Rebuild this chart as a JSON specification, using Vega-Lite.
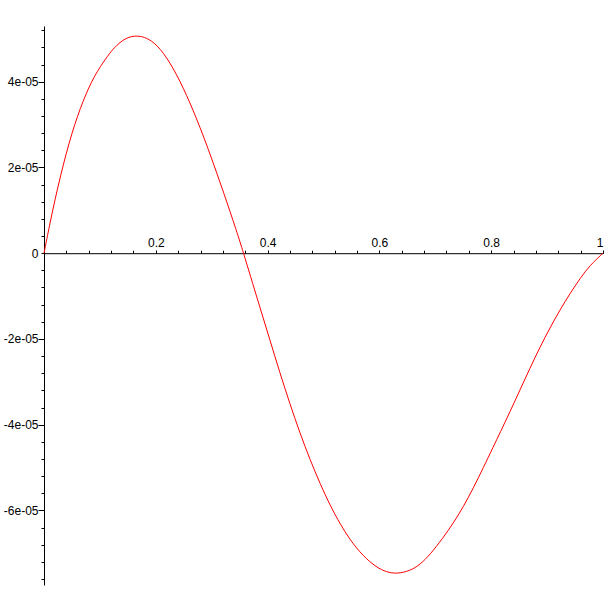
{
  "$schema": "https://vega.github.io/schema/vega-lite/v6.json",
  "autosize": "none",
  "width": 559,
  "height": 559,
  "padding": {"left": 44, "top": 26, "right": 8, "bottom": 26},
  "background": "white",
  "config": {"view": {"stroke": null}, "axis": {"grid": false, "domainColor": "black", "tickColor": "black", "labelColor": "black", "labelFont": "Liberation Sans", "labelFontSize": 12, "title": null, "domainWidth": 1, "tickWidth": 1}},
  "data": {"values": [
    {"x": 0, "y": 0},
    {"x": 0.01, "y": 0.66e-5},
    {"x": 0.02, "y": 1.27e-5},
    {"x": 0.03, "y": 1.83e-5},
    {"x": 0.04, "y": 2.34e-5},
    {"x": 0.05, "y": 2.80e-5},
    {"x": 0.06, "y": 3.20e-5},
    {"x": 0.07, "y": 3.55e-5},
    {"x": 0.08, "y": 3.86e-5},
    {"x": 0.09, "y": 4.12e-5},
    {"x": 0.10, "y": 4.34e-5},
    {"x": 0.118, "y": 4.68e-5},
    {"x": 0.13, "y": 4.85e-5},
    {"x": 0.142, "y": 4.98e-5},
    {"x": 0.152, "y": 5.04e-5},
    {"x": 0.162, "y": 5.07e-5},
    {"x": 0.172, "y": 5.06e-5},
    {"x": 0.182, "y": 5.03e-5},
    {"x": 0.2016, "y": 4.88e-5},
    {"x": 0.2254, "y": 4.46e-5},
    {"x": 0.249, "y": 3.87e-5},
    {"x": 0.273, "y": 3.15e-5},
    {"x": 0.297, "y": 2.32e-5},
    {"x": 0.321, "y": 1.43e-5},
    {"x": 0.345, "y": 0.50e-5},
    {"x": 0.357, "y": 0},
    {"x": 0.3685, "y": -0.50e-5},
    {"x": 0.386, "y": -1.25e-5},
    {"x": 0.404, "y": -2.02e-5},
    {"x": 0.422, "y": -2.79e-5},
    {"x": 0.440, "y": -3.52e-5},
    {"x": 0.458, "y": -4.20e-5},
    {"x": 0.476, "y": -4.82e-5},
    {"x": 0.494, "y": -5.38e-5},
    {"x": 0.512, "y": -5.89e-5},
    {"x": 0.530, "y": -6.32e-5},
    {"x": 0.547, "y": -6.68e-5},
    {"x": 0.571, "y": -7.07e-5},
    {"x": 0.595, "y": -7.33e-5},
    {"x": 0.613, "y": -7.44e-5},
    {"x": 0.631, "y": -7.48e-5},
    {"x": 0.655, "y": -7.41e-5},
    {"x": 0.673, "y": -7.26e-5},
    {"x": 0.690, "y": -7.04e-5},
    {"x": 0.714, "y": -6.64e-5},
    {"x": 0.732, "y": -6.30e-5},
    {"x": 0.750, "y": -5.92e-5},
    {"x": 0.768, "y": -5.48e-5},
    {"x": 0.786, "y": -5.00e-5},
    {"x": 0.804, "y": -4.51e-5},
    {"x": 0.8157, "y": -4.19e-5},
    {"x": 0.8336, "y": -3.70e-5},
    {"x": 0.8515, "y": -3.19e-5},
    {"x": 0.8694, "y": -2.68e-5},
    {"x": 0.8873, "y": -2.19e-5},
    {"x": 0.9052, "y": -1.74e-5},
    {"x": 0.9231, "y": -1.32e-5},
    {"x": 0.941, "y": -0.94e-5},
    {"x": 0.9589, "y": -0.59e-5},
    {"x": 0.9767, "y": -0.28e-5},
    {"x": 1.0, "y": 0}
  ]},
  "layer": [
    {
      "mark": {"type": "line", "color": "#ff0000", "strokeWidth": 1, "interpolate": "basis"},
      "encoding": {
        "x": {"field": "x", "type": "quantitative", "scale": {"domain": [0, 1], "nice": false, "zero": false},
          "axis": {"orient": "top", "offset": -227.2, "labels": false, "tickSize": 3, "domain": true,
            "values": [0.04, 0.08, 0.12, 0.16, 0.2, 0.24, 0.28, 0.32, 0.36, 0.4, 0.44, 0.48, 0.52, 0.56, 0.6, 0.64, 0.68, 0.72, 0.76, 0.8, 0.84, 0.88, 0.92, 0.96, 1]}},
        "y": {"field": "y", "type": "quantitative", "scale": {"domain": [-7.74e-5, 5.30e-5], "nice": false, "zero": false},
          "axis": {"orient": "left", "labels": false, "tickSize": 3, "domain": true,
            "values": [-7.6e-5, -7.2e-5, -6.8e-5, -6.4e-5, -6.0e-5, -5.6e-5, -5.2e-5, -4.8e-5, -4.4e-5, -4.0e-5, -3.6e-5, -3.2e-5, -2.8e-5, -2.4e-5, -2.0e-5, -1.6e-5, -1.2e-5, -0.8e-5, -0.4e-5, 0, 0.4e-5, 0.8e-5, 1.2e-5, 1.6e-5, 2.0e-5, 2.4e-5, 2.8e-5, 3.2e-5, 3.6e-5, 4.0e-5, 4.4e-5, 4.8e-5, 5.2e-5]}}
      }
    },
    {
      "mark": {"type": "line", "color": "#ff0000", "strokeWidth": 1, "interpolate": "basis", "opacity": 0},
      "encoding": {
        "x": {"field": "x", "type": "quantitative",
          "axis": {"orient": "top", "offset": -227.2, "domain": false, "tickSize": 3, "labelPadding": 1, "format": "~g",
            "values": [0.2, 0.4, 0.6, 0.8, 1]}},
        "y": {"field": "y", "type": "quantitative",
          "axis": {"orient": "left", "domain": false, "tickSize": 6, "labelPadding": 0,
            "labelExpr": "datum.value == 0 ? '0' : (round(datum.value * 1e5) + 'e-05')",
            "values": [-6e-5, -4e-5, -2e-5, 2e-5, 4e-5]}}
      }
    },
    {
      "mark": {"type": "line", "color": "#ff0000", "strokeWidth": 1, "interpolate": "basis", "opacity": 0},
      "encoding": {
        "x": {"field": "x", "type": "quantitative", "axis": null},
        "y": {"field": "y", "type": "quantitative",
          "axis": {"orient": "left", "domain": false, "ticks": false, "labelPadding": 6,
            "labelExpr": "'0'", "values": [0]}}
      }
    }
  ],
  "resolve": {"axis": {"x": "independent", "y": "independent"}}
}
